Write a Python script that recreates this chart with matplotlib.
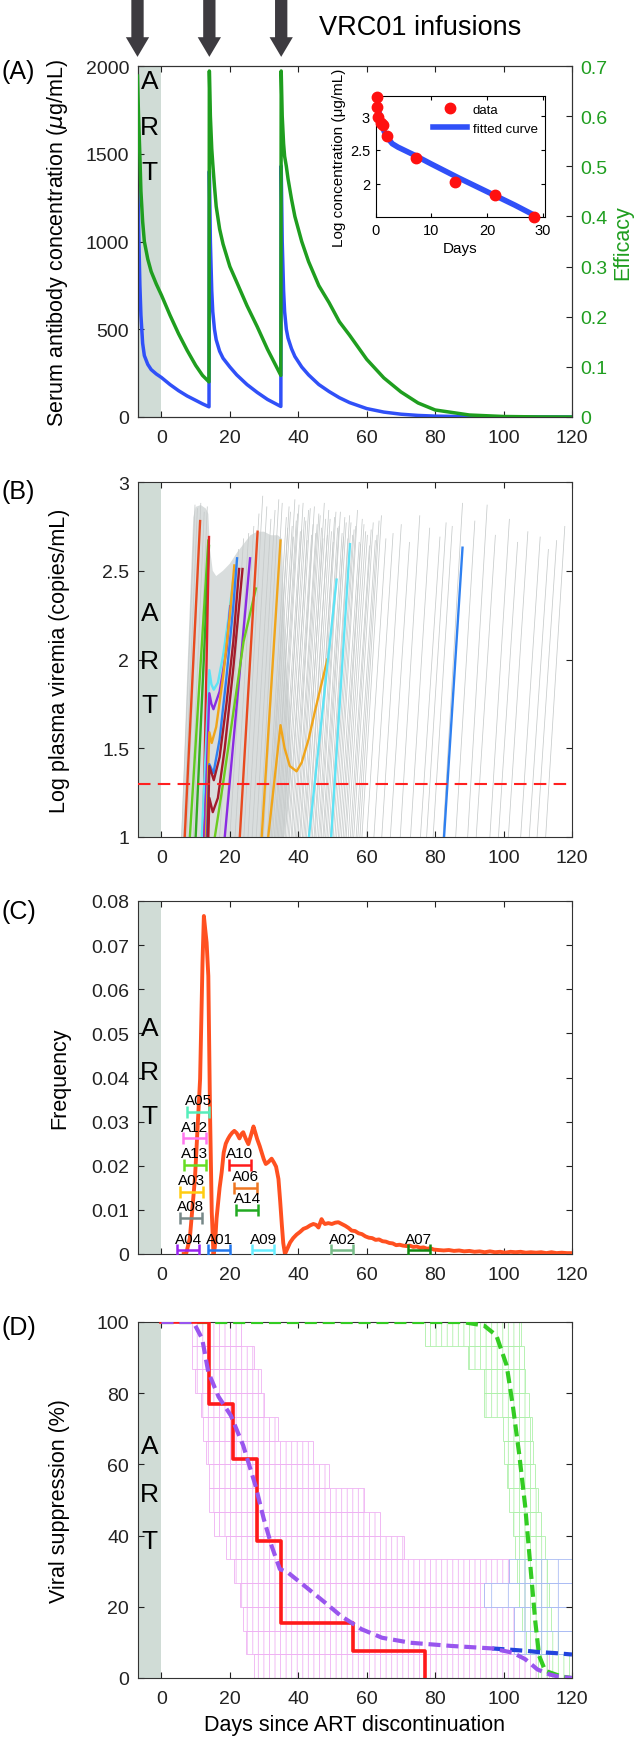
import numpy as np
import matplotlib.pyplot as plt
from matplotlib.patches import FancyArrow, Rectangle
from matplotlib.transforms import blended_transform_factory
from matplotlib.lines import Line2D

plt.rcParams['font.family'] = ['Liberation Sans', 'DejaVu Sans']
plt.rcParams['hatch.linewidth'] = 0.6

# ---------------- data ----------------
day_ticks = [0, 20, 40, 60, 80, 100, 120]
infusion_days = [-7, 14, 35]

# (A) serum VRC01 concentration and efficacy
pk_day = [-7, -6.7, -6.3, -6, -5.5, -5, -4, -3, -1.5, 0, 2.5, 5, 7.5, 10, 12, 13.9,
          14, 14.3, 14.7, 15, 15.5, 16, 17, 18, 20, 22, 25, 28, 31, 34.9,
          35, 35.3, 35.7, 36, 36.5, 37, 38, 39, 41, 43, 46, 49, 52, 55, 60, 65, 70, 75,
          80, 90, 100, 110, 120]
conc_ugml = [1480, 1100, 750, 580, 420, 350, 300, 270, 245, 225, 185, 150, 120, 95, 75, 58,
             1400, 1000, 720, 600, 500, 440, 375, 335, 285, 240, 185, 140, 100, 60,
             1430, 1000, 720, 600, 500, 450, 390, 345, 285, 240, 185, 145, 110, 82, 48, 28, 16, 9,
             5, 2, 0.8, 0.3, 0.1]
efficacy = [0.68, 0.6, 0.52, 0.45, 0.39, 0.35, 0.315, 0.29, 0.265, 0.243, 0.203, 0.166, 0.133, 0.103, 0.083, 0.07,
            0.69, 0.6, 0.535, 0.505, 0.46, 0.42, 0.375, 0.345, 0.3, 0.269, 0.222, 0.18, 0.135, 0.083,
            0.69, 0.6, 0.545, 0.52, 0.5, 0.475, 0.435, 0.4, 0.35, 0.31, 0.262, 0.228, 0.19, 0.163, 0.115, 0.078, 0.05, 0.028,
            0.014, 0.004, 0.001, 0.0002, 0.0]

inset_data_day = [0.2, 0.3, 0.5, 1.0, 1.3, 2.1, 7.2, 14.2, 21.4, 28.4]
inset_data_log = [3.28, 3.14, 2.99, 2.89, 2.87, 2.70, 2.38, 2.02, 1.83, 1.51]
inset_fit_day = [0.3, 0.6, 1.0, 1.5, 2.0, 3.0, 4.0, 5.0, 7.0, 10.0, 15.0, 20.0, 25.0, 28.5]
inset_fit_log = [3.24, 3.06, 2.91, 2.78, 2.69, 2.59, 2.54, 2.50, 2.42, 2.29, 2.08, 1.88, 1.68, 1.53]

# (B) simulated viremia: dense cloud outline + individual gray rebounds
cloud_day = [5.8, 7.5, 9.3, 10.0, 11.5, 13.0, 13.7, 14.2, 15.0, 16.0, 18.0, 20.0, 22.0, 24.0, 26.0,
             28.0, 30.0, 32.0, 34.0, 35.2, 35.8, 36.5, 37.5, 38.0, 37.0, 36.0]
cloud_log = [1.0, 1.9, 2.8, 2.86, 2.87, 2.85, 2.82, 2.62, 2.5, 2.47, 2.5, 2.54, 2.6, 2.65, 2.7,
             2.72, 2.72, 2.7, 2.7, 2.68, 2.3, 2.0, 1.7, 1.4, 1.15, 1.0]
gray_start = [5.9, 6.5, 7.4, 8.4, 9.3, 17.0, 18.5, 20.0, 21.5, 23.0, 24.1, 25.3, 26.5, 27.7, 28.8, 29.8,
              30.9, 31.7, 32.5, 33.4, 34.2, 35.0, 35.7, 36.6, 37.4, 38.2, 39.1, 39.9, 40.7, 41.6, 42.4,
              43.2, 44.1, 44.9, 45.9, 46.7, 47.5, 48.4, 49.4, 50.2, 51.2, 52.1, 53.1, 54.0, 55.2, 56.2,
              57.4, 58.6, 60.0, 62.1, 64.4, 66.9, 69.8, 72.8, 75.7, 77.5, 79.4, 82.3, 86.0, 89.5, 92.0,
              96.0, 98.5, 101.4, 105.0, 107.5, 109.8, 112.3]
gray_top = [9.8, 10.5, 11.5, 12.5, 13.4, 22.5, 24.0, 25.5, 27.0, 28.5, 29.6, 30.8, 32.0, 33.2, 34.3, 35.3,
            36.5, 37.3, 38.2, 39.0, 39.8, 40.6, 41.4, 42.2, 43.0, 43.9, 44.7, 45.5, 46.4, 47.2, 48.0,
            48.9, 49.7, 50.6, 51.5, 52.3, 53.2, 54.0, 55.0, 55.9, 56.8, 57.8, 58.7, 59.7, 60.8, 61.9,
            63.0, 64.3, 65.6, 67.7, 70.1, 72.5, 75.5, 78.4, 81.4, 83.2, 85.0, 88.0, 91.6, 95.2, 97.6,
            101.7, 104.1, 107.1, 110.7, 113.1, 115.5, 117.9]
gray_peak = [2.87, 2.85, 2.88, 2.83, 2.86, 2.62, 2.68, 2.71, 2.75, 2.82, 2.92, 2.86, 2.79, 2.84, 2.90, 2.88,
             2.80, 2.86, 2.75, 2.90, 2.82, 2.72, 2.88, 2.78, 2.84, 2.70,
             2.86, 2.76, 2.81, 2.68, 2.79, 2.84, 2.72, 2.80, 2.74, 2.83,
             2.69, 2.77, 2.81, 2.70, 2.75, 2.66, 2.79, 2.72, 2.64, 2.77,
             2.70, 2.81, 2.68, 2.71, 2.76, 2.66, 2.81, 2.74, 2.69, 2.77,
             2.75, 2.88, 2.78, 2.87, 2.70, 2.79, 2.66, 2.72, 2.69, 2.62,
             2.67, 2.75]
gray2_start = [31.3, 32.1, 33.0, 33.8, 34.6, 35.4, 36.2, 37.0, 37.9, 38.7, 39.5, 40.4, 41.2, 42.0, 42.9,
               43.7, 44.6, 45.4, 46.3, 47.2, 48.0, 48.9, 49.8, 50.7, 51.7, 52.6, 53.6, 54.6, 55.7, 56.9, 58.0]
gray2_top = [36.9, 37.7, 38.6, 39.4, 40.2, 41.0, 41.8, 42.6, 43.5, 44.3, 45.1, 46.0, 46.8, 47.6, 48.5,
             49.3, 50.2, 51.0, 51.9, 52.8, 53.6, 54.5, 55.4, 56.3, 57.3, 58.2, 59.2, 60.2, 61.3, 62.5, 63.6]
gray2_peak = [2.74, 2.83, 2.69, 2.78, 2.87, 2.73, 2.80, 2.67, 2.85, 2.76, 2.71, 2.82, 2.74, 2.88, 2.70,
              2.79, 2.66, 2.83, 2.75, 2.71, 2.80, 2.68, 2.77, 2.73, 2.84, 2.65, 2.76, 2.70, 2.73, 2.67, 2.78]

# (B) individual patient fits
orangered1_day = [6.8, 11.3];  orangered1_log = [1.0, 2.78]
green1_day = [8.3, 13.7];      green1_log = [1.0, 2.67]
green2_day = [10.0, 13.9];     green2_log = [1.0, 2.64]
red1_day = [12.2, 13.9];       red1_log = [1.0, 2.69]
cyan1_day = [11.8, 14.0, 14.6, 15.3, 16.5, 18.0, 19.5, 21.0]
cyan1_log = [1.0, 1.94, 1.86, 1.83, 1.87, 2.02, 2.22, 2.45]
purple1_day = [12.6, 14.0, 14.6, 15.2, 17.0, 19.0, 20.1]
purple1_log = [1.0, 1.81, 1.75, 1.72, 1.82, 2.05, 2.30]
orange1_day = [13.0, 14.0, 14.7, 16.0, 18.0, 20.0, 21.3]
orange1_log = [1.0, 1.59, 1.53, 1.62, 1.90, 2.25, 2.53]
blue1_day = [13.3, 14.0, 15.2, 17.0, 19.0, 21.0, 22.1]
blue1_log = [1.0, 1.41, 1.36, 1.55, 1.90, 2.30, 2.57]
darkred1_day = [13.5, 14.0, 15.3, 17.0, 19.0, 21.0, 22.7]
darkred1_log = [1.0, 1.40, 1.32, 1.45, 1.75, 2.10, 2.51]
darkred2_day = [13.7, 14.0, 15.0, 16.5, 18.5, 21.0, 23.7]
darkred2_log = [1.0, 1.22, 1.14, 1.22, 1.50, 1.95, 2.51]
purple2_day = [18.5, 25.9];    purple2_log = [1.0, 2.57]
green3_day = [15.6, 18.0, 21.0, 24.0, 27.6]
green3_log = [1.0, 1.30, 1.70, 2.10, 2.40]
orangered2_day = [22.9, 28.1]; orangered2_log = [1.0, 2.72]
orange2_day = [29.3, 34.8];    orange2_log = [1.0, 2.67]
orange3_day = [31.2, 34.8, 36.0, 37.5, 39.5, 41.0, 43.0, 45.0, 47.0, 48.5]
orange3_log = [1.0, 1.63, 1.50, 1.40, 1.37, 1.42, 1.55, 1.72, 1.88, 2.0]
cyan2_day = [43.1, 51.2];      cyan2_log = [1.0, 2.45]
cyan3_day = [49.6, 55.1];      cyan3_log = [1.0, 2.65]
blue2_day = [82.6, 88.0];      blue2_log = [1.0, 2.63]
detection_log = 1.3

# (C) rebound time distribution
freq_day = [6.5, 7.2, 8.3, 9.8, 11.3, 12.0, 12.4, 12.8, 13.2, 13.7, 14.2, 14.7, 15.2, 15.6, 16.1, 17.0,
            17.6, 18.2, 18.8, 19.4, 20.0, 20.7, 21.3, 22.0, 22.8, 23.4, 23.9, 24.6, 25.4, 26.2, 26.9,
            27.4, 28.0, 28.7, 29.3, 29.9, 30.5, 31.2, 32.2, 32.9, 33.5, 34.2, 34.7, 35.2, 35.6, 36.1,
            36.8, 37.6, 38.5, 39.5, 40.5, 41.5, 42.5, 43.5, 44.4, 45.2, 45.9, 46.8, 47.3, 47.8, 48.8,
            49.8, 50.8, 51.7, 52.7, 53.7, 54.7, 55.6, 56.6, 57.6, 58.6, 59.6, 60.6, 61.6, 62.6, 63.6,
            64.6, 65.6, 66.6, 67.6, 68.6, 69.6, 70.6, 71.6, 72.6, 73.6, 74.6, 75.6, 76.6, 77.6, 78.6,
            79.6, 81, 82.5, 84, 85.5, 87, 88.5, 90, 91.5, 93, 94.5, 96, 97.5, 99, 100.5, 102, 103.5,
            105, 106.5, 108, 109.5, 111, 112.5, 114, 115.5, 117, 118.5, 120]
freq_val = [0.0, 0.0, 0.0036, 0.0172, 0.0397, 0.066, 0.0766, 0.0735, 0.0706, 0.063, 0.032, 0.0096, 0.0,
            0.0015, 0.008, 0.015, 0.0185, 0.023, 0.025, 0.026, 0.0268, 0.0275, 0.0279, 0.0274, 0.0262,
            0.0272, 0.0276, 0.0262, 0.0249, 0.027, 0.0289, 0.0276, 0.026, 0.0245, 0.023, 0.0215, 0.0204,
            0.0208, 0.0216, 0.0207, 0.0198, 0.017, 0.012, 0.0065, 0.0025, 0.0, 0.0012, 0.0026, 0.0036,
            0.0044, 0.005, 0.0057, 0.006, 0.0065, 0.0068, 0.0066, 0.006, 0.0079, 0.0072, 0.0068, 0.007,
            0.0068, 0.0071, 0.0072, 0.0068, 0.0064, 0.0059, 0.0053, 0.0052, 0.0047, 0.0045, 0.004,
            0.0037, 0.0036, 0.0032, 0.0033, 0.0029, 0.0028, 0.0025, 0.0024, 0.002, 0.0021, 0.0019,
            0.0018, 0.0019, 0.0016, 0.0017, 0.0014, 0.0015, 0.0012, 0.0013, 0.001, 0.0009, 0.0008,
            0.0009, 0.0007, 0.0008, 0.0006, 0.0007, 0.0005, 0.0006, 0.0004, 0.0006, 0.0004, 0.0005,
            0.0003, 0.0005, 0.0004, 0.0005, 0.0003, 0.0004, 0.0003, 0.0004, 0.0002, 0.0004, 0.0002,
            0.0003, 0.0002, 0.0002]
patient_ids = ['A05', 'A12', 'A13', 'A03', 'A08', 'A10', 'A06', 'A14', 'A04', 'A01', 'A09', 'A02', 'A07']
patient_lo = [7.4, 6.4, 6.6, 5.4, 5.4, 19.6, 21.3, 21.8, 4.5, 13.7, 26.4, 49.6, 72.0]
patient_hi = [14.0, 13.0, 13.0, 12.1, 11.8, 26.1, 27.8, 28.3, 11.1, 20.0, 33.0, 56.1, 78.5]
patient_y = [0.0322, 0.0262, 0.0202, 0.0141, 0.0081, 0.0202, 0.015, 0.0100, 0.0008, 0.0008, 0.0008, 0.0008, 0.0008]
patient_colors = ['#55eebb', '#ff77ee', '#66dd22', '#ffcc11', '#778888', '#ff1a1a', '#ee7722', '#22aa22',
                  '#9922ee', '#2277ee', '#66eeff', '#77bb88', '#118811']

# (D) viral suppression
km_day = [0, 14, 21, 28, 35, 56, 77]
km_pct = [100, 76.9, 61.5, 38.5, 15.4, 7.7, 0]
model_day = [0, 9, 9.6, 11.9, 13.7, 16.7, 20.3, 23.9, 27.5, 29.9, 32.2, 34.6, 37, 41.8, 47.8, 52.5,
             58.5, 64.5, 72.8, 84.8, 96.7, 102.7, 106.3, 109.9, 113.4, 116, 120]
model_pct = [100, 100, 99.5, 95.3, 85.9, 79, 73.7, 65.3, 54, 44.7, 37.1, 30.6, 29.6, 25.9, 21.2, 17.4,
             13.7, 11.3, 9.9, 9.0, 8.3, 7.1, 5.3, 2.4, 1.0, 0.4, 0.0]
model2_day = [96.7, 102.7, 107, 110, 115, 120]
model2_pct = [8.3, 7.9, 7.6, 7.3, 7.0, 6.6]
model3_day = [0, 88, 94.3, 97.9, 100.9, 102.7, 104.5, 106.3, 108, 109.3, 110.4, 112.2, 117, 120]
model3_pct = [100, 100, 99, 96.2, 87.8, 76.5, 63.4, 48.4, 29.6, 15.6, 6.2, 2.0, 0.4, 0.0]
band_low = [93.33, 86.67, 80.0, 73.33, 66.67, 60.0, 53.33, 46.67, 40.0, 33.33, 26.67, 20.0, 13.33, 6.67, 0.0]
pink_start = [9.0, 9.0, 9.9, 11.6, 12.0, 13.1, 14.0, 14.0, 15.5, 18.9, 21.1, 22.9, 23.9, 24.7, 27.1]
pink_end = [23.3, 27.1, 29.0, 30.0, 34.1, 44.2, 49.0, 59.1, 63.9, 71.0, 101.5, 94.3, 103.0, 103.0, 113.4]
green_start = [77.0, 89.6, 94.3, 94.3, 99.7, 100.0, 101.0, 101.7, 102.7, 103.3, 103.9, 104.5, 105.5, 106.5, 110.0]
green_end = [105.0, 106.0, 106.3, 107.5, 108.3, 108.7, 109.3, 110.0, 111.0, 112.0, 112.8, 113.4, 114.0, 116.0, 120.0]
blue_low = [26.67, 20.0, 13.33, 6.67]
blue_start = [101.5, 94.3, 103.0, 103.0]
blue_end = [120.0, 120.0, 120.0, 120.0]

# ---------------- figure ----------------
art_color = '#d0dcd6'
green = '#1f9e1f'
TICK_FS, LABEL_FS = 14, 15.5
fig = plt.figure(figsize=(6.42, 17.4), dpi=100)
L, W, H = 137.5 / 642, 434.5 / 642, 1740.0


def box(top, bottom):
    return [L, 1 - bottom / H, W, (bottom - top) / H]


axA = fig.add_axes(box(67, 418))
axB = fig.add_axes(box(483, 838))
axC = fig.add_axes(box(902, 1255))
axD = fig.add_axes(box(1323, 1679))


def style(ax, art_y, right=True):
    ax.set_xlim(-7, 120)
    ax.set_xticks(day_ticks)
    ax.tick_params(direction='in', length=4, width=0.8, top=True, right=right,
                   labelsize=TICK_FS, colors='#222222')
    ax.tick_params(axis='x', pad=9)
    ax.tick_params(axis='y', pad=6)
    for s in ax.spines.values():
        s.set_linewidth(0.8)
        s.set_color('#333333')
    ax.axvspan(-7, 0, color=art_color, lw=0, zorder=0)
    tr = blended_transform_factory(ax.transData, ax.transAxes)
    for letter, yy in zip('ART', art_y):
        ax.text(-3.5, yy, letter, transform=tr, ha='center', va='center', fontsize=19, zorder=5)
    ax.yaxis.set_label_coords(-0.155, 0.5)


def panel_label(txt, y_px):
    fig.text(0.003, 1 - y_px / H, txt, fontsize=18, va='center', ha='left')


# ----- (A)
style(axA, [0.957, 0.825, 0.697], right=False)
axA.set_ylim(0, 2000)
axA.set_yticks([0, 500, 1000, 1500, 2000])
axA.plot(pk_day, conc_ugml, color='#3050f8', lw=2.5, zorder=3)
axA.set_ylabel(r'Serum antibody concentration ($\mu$g/mL)', fontsize=LABEL_FS)
axA2 = axA.twinx()
axA2.set_ylim(0, 0.7)
axA2.set_yticks([0, 0.1, 0.2, 0.3, 0.4, 0.5, 0.6, 0.7])
axA2.set_yticklabels(['0', '0.1', '0.2', '0.3', '0.4', '0.5', '0.6', '0.7'])
axA2.tick_params(direction='in', length=4, width=0.8, labelsize=TICK_FS, colors='#222222', pad=6)
axA2.tick_params(axis='y', labelcolor=green)
for s in axA2.spines.values():
    s.set_linewidth(0.8)
    s.set_color('#333333')
axA2.plot(pk_day, efficacy, color=green, lw=2.5, zorder=3)
axA2.set_ylabel('Efficacy', color=green, fontsize=LABEL_FS)
axA2.yaxis.set_label_coords(1.093, 0.5)

tr = blended_transform_factory(axA.transData, axA.transAxes)
for d in infusion_days:
    axA.add_patch(FancyArrow(d, 1.19, 0, -0.164, width=3.6, head_width=6.8, head_length=0.056,
                             length_includes_head=True, transform=tr, clip_on=False,
                             color='#3d3b40', lw=0))
axA.text(46, 1.111, 'VRC01 infusions', transform=tr, fontsize=19.5, va='center', ha='left')

ins = axA2.inset_axes([0.548, 0.569, 0.391, 0.346])
ins.plot(inset_fit_day, inset_fit_log, color='#3050f8', lw=4, zorder=2)
ins.plot(inset_data_day, inset_data_log, 'o', color='#ff1010', ms=7.5, zorder=3, clip_on=False)
ins.set_xlim(0, 30.5)
ins.set_ylim(1.5, 3.3)
ins.set_xticks([0, 10, 20, 30])
ins.set_yticks([2, 2.5, 3])
ins.set_yticklabels(['2', '2.5', '3'])
ins.tick_params(direction='in', length=3, top=True, right=True, labelsize=10.5, pad=4)
ins.set_xlabel('Days', fontsize=11, labelpad=3)
ins.set_ylabel('Log concentration (μg/mL)', fontsize=11, labelpad=3)
h = [Line2D([], [], ls='none', marker='o', color='#ff1010', ms=7.5),
     Line2D([], [], color='#3050f8', lw=4)]
ins.legend(h, ['data', 'fitted curve'], loc='upper right', frameon=False, fontsize=9.5,
           handlelength=2.6, borderaxespad=0.2, handletextpad=0.4, labelspacing=0.5)
panel_label('(A)', 72)

# ----- (B)
style(axB, [0.631, 0.495, 0.373])
axB.set_ylim(1, 3)
axB.set_yticks([1, 1.5, 2, 2.5, 3])
axB.set_yticklabels(['1', '1.5', '2', '2.5', '3'])
axB.fill(cloud_day, cloud_log, color='#d9dddd', lw=0, zorder=1)
for s, t, p in zip(gray_start + gray2_start, gray_top + gray2_top, gray_peak + gray2_peak):
    axB.plot([s, t], [1.0, p], color='#c6caca', lw=0.55, zorder=1)
b_traj = [(orangered1_day, orangered1_log, '#e84a1f'), (green1_day, green1_log, '#5fcc1f'),
          (green2_day, green2_log, '#33aa22'), (red1_day, red1_log, '#e02424'),
          (cyan1_day, cyan1_log, '#5fe3f5'), (purple1_day, purple1_log, '#8a2be2'),
          (orange1_day, orange1_log, '#f0a51a'), (blue1_day, blue1_log, '#2f80f0'),
          (darkred1_day, darkred1_log, '#a31b2b'), (darkred2_day, darkred2_log, '#a31b2b'),
          (purple2_day, purple2_log, '#8a2be2'), (green3_day, green3_log, '#6ccc1f'),
          (orangered2_day, orangered2_log, '#e84a1f'), (orange2_day, orange2_log, '#f0a51a'),
          (orange3_day, orange3_log, '#f0a51a'), (cyan2_day, cyan2_log, '#5fe3f5'),
          (cyan3_day, cyan3_log, '#5fe3f5'), (blue2_day, blue2_log, '#2f80f0')]
for xs, ys, c in b_traj:
    axB.plot(xs, ys, color=c, lw=1.7, zorder=3)
axB.axhline(detection_log, color='#ff2020', lw=1.5, ls=(0, (6, 3.5)), zorder=4)
axB.set_ylabel('Log plasma viremia (copies/mL)', fontsize=LABEL_FS)
panel_label('(B)', 492)

# ----- (C)
style(axC, [0.64, 0.515, 0.39])
axC.set_ylim(0, 0.08)
axC.set_yticks([0, 0.01, 0.02, 0.03, 0.04, 0.05, 0.06, 0.07, 0.08])
axC.set_yticklabels(['0', '0.01', '0.02', '0.03', '0.04', '0.05', '0.06', '0.07', '0.08'])
axC.plot(freq_day, freq_val, color='#ff5020', lw=2.8, zorder=3, solid_joinstyle='round')
for pid, lo, hi, y, c in zip(patient_ids, patient_lo, patient_hi, patient_y, patient_colors):
    mid = (lo + hi) / 2
    axC.errorbar(mid, y, xerr=(hi - lo) / 2, color=c, lw=1.8, capsize=4.5, capthick=1.8, zorder=4)
    axC.annotate(pid, (mid, y), xytext=(0, 3.5), textcoords='offset points', ha='center',
                 va='bottom', fontsize=11, zorder=5)
axC.set_ylabel('Frequency', fontsize=LABEL_FS)
panel_label('(C)', 912)

# ----- (D)
style(axD, [0.653, 0.517, 0.385])
axD.set_ylim(0, 100)
axD.set_yticks([0, 20, 40, 60, 80, 100])
for low, s, e in zip(band_low, pink_start, pink_end):
    axD.add_patch(Rectangle((s, low), e - s, 6.667, fill=False, edgecolor='#efb2f3', hatch='|||', lw=0.6, zorder=1))
for low, s, e in zip(band_low, green_start, green_end):
    axD.add_patch(Rectangle((s, low), e - s, 6.667, fill=False, edgecolor='#aef0aa', hatch='|||', lw=0.6, zorder=1))
for low, s, e in zip(blue_low, blue_start, blue_end):
    axD.add_patch(Rectangle((s, low), e - s, 6.667, fill=False, edgecolor='#aabcf4', hatch='|', lw=0.6, zorder=1))
dash = (0, (2.9, 1.4))
axD.plot(model3_day, model3_pct, color='#33cc22', lw=3, ls=dash, zorder=3)
axD.plot(model2_day, model2_pct, color='#2244dd', lw=3, ls=dash, zorder=3)
axD.plot(km_day, km_pct, color='#ff1a1a', lw=2.6, drawstyle='steps-post', zorder=4)
axD.plot(model_day, model_pct, color='#9955ee', lw=3, ls=dash, zorder=5)
axD.set_ylabel('Viral suppression (%)', fontsize=LABEL_FS)
axD.set_xlabel('Days since ART discontinuation', fontsize=LABEL_FS, labelpad=5)
panel_label('(D)', 1328)

fig.savefig('out.png', dpi=100)
